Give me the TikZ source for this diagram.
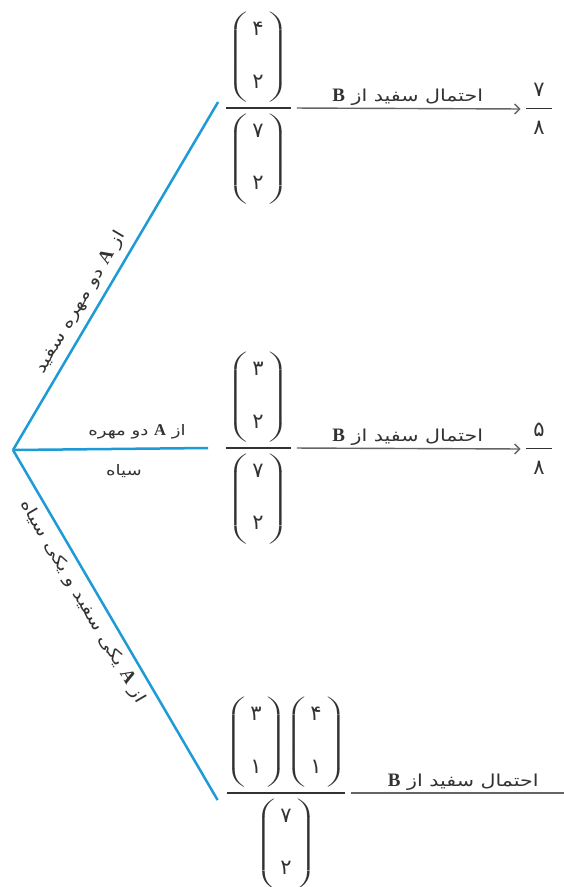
\documentclass[tikz,border=0pt]{standalone}
\usepackage{amsmath}
\usepackage{graphicx}
\usepackage{fontspec}
\TeXXeTstate=1
\newfontfamily\arabicfont[Script=Arabic,FakeStretch=1.25]{DejaVu Sans}
\newfontfamily\digitfont[Script=Arabic]{DejaVu Sans}
\newfontfamily\latinfont{Liberation Serif}
\usetikzlibrary{arrows.meta}
\definecolor{branch}{RGB}{30,155,215}
\definecolor{ink}{RGB}{50,50,50}
\definecolor{greyline}{RGB}{100,100,100}
\newcommand\pdig[1]{\hbox{\digitfont\fontsize{21}{21}\selectfont #1}}
\newcommand\lpar{\mbox{\scalebox{2.2}[1]{$\left(\vrule width0pt height47.5pt depth42.5pt\right.$}}}
\newcommand\rpar{\mbox{\scalebox{2.2}[1]{$\left.\vrule width0pt height47.5pt depth42.5pt\right)$}}}
\newcommand\pbin[2]{\lpar\kern2.5pt\begin{matrix}\pdig{#1}\\[36pt]\pdig{#2}\end{matrix}\kern2.5pt\rpar}
\newcommand\wbox[2]{\hbox to #1{\hss$\displaystyle #2$\hss}}
\newcommand\rtl[1]{\arabicfont\beginR #1\endR}
\newcommand\lat[1]{\beginL{\latinfont\bfseries\fontsize{19}{20}\selectfont #1}\endL}
\newcommand\latm[1]{\beginL{\latinfont\bfseries\fontsize{16.5}{18}\selectfont #1}\endL}
\newcommand\numstrut{\vrule width0pt height0pt depth8pt}
\newcommand\denstrut{\vrule width0pt height22pt depth0pt}
\tikzset{
  branchline/.style={draw=branch, line width=2.5pt},
  arrowline/.style={draw=greyline, line width=1.4pt},
  arrowtip/.style={-{Straight Barb[length=5pt,width=10pt,line width=1.4pt]}},
  fracnode/.style={inner sep=0pt, text=ink},
  lbl/.style={text=ink, font=\arabicfont\fontsize{16.5}{18}\selectfont, inner sep=1pt},
  smalllbl/.style={text=ink, font=\arabicfont\fontsize{14.5}{16}\selectfont, inner sep=1pt},
}
\begin{document}
\begin{tikzpicture}[x=1pt,y=-1pt]
\useasboundingbox (0,0) rectangle (563,887);
\fill[white] (0,0) rectangle (563,887);
\coordinate (root) at (13,450);
% fractions
\node[fracnode] (f1) at (258,108) {$\genfrac{}{}{1.6pt}{0}{\wbox{65pt}{\pbin{۴}{۲}}}{\wbox{65pt}{\pbin{۷}{۲}}}$};
\node[fracnode] (f2) at (258,448) {$\genfrac{}{}{1.6pt}{0}{\wbox{65pt}{\pbin{۳}{۲}}}{\wbox{65pt}{\pbin{۷}{۲}}}$};
\node[fracnode] (f3) at (286,793) {$\genfrac{}{}{1.6pt}{0}{\wbox{118pt}{\pbin{۳}{۱}\pbin{۴}{۱}}}{\wbox{118pt}{\pbin{۷}{۲}}}$};
\node[fracnode, inner sep=1pt] (r1) at (539,109) {$\genfrac{}{}{1.2pt}{0}{\wbox{26pt}{\pdig{۷}\numstrut}}{\wbox{26pt}{\denstrut\pdig{۸}}}$};
\node[fracnode, inner sep=1pt] (r2) at (539,449) {$\genfrac{}{}{1.2pt}{0}{\wbox{26pt}{\pdig{۵}\numstrut}}{\wbox{26pt}{\denstrut\pdig{۸}}}$};
\coordinate (e3) at (580,793);
% branches
\draw[branchline] (root) -- ([xshift=-6pt,yshift=6pt]f1.west)
  node[pos=0.4, sloped, above=6pt, lbl] (lab1) {\rtl{از \lat{A} دو مهره سفید}};
\draw[branchline] (root) -- ([xshift=-16pt]f2.west);
\node[smalllbl] (lab2) at (137,432) {\rtl{از \latm{A} دو مهره}};
\node[smalllbl] (lab3) at (124,471) {\rtl{سیاه}};
\draw[branchline] (root) -- ([xshift=-8pt,yshift=-7pt]f3.west)
  node[pos=0.41, sloped, below=6pt, lbl] (lab4) {\rtl{از \lat{A} یکی سفید و یکی سیاه}};
% arrows
\draw[arrowline, arrowtip, shorten <=5pt, shorten >=3pt] (f1.east) -- (r1.west)
  node[midway, above=1pt, lbl] (lab5) {\rtl{احتمال سفید از \lat{B}}};
\draw[arrowline, arrowtip, shorten <=5pt, shorten >=3pt] (f2.east) -- (r2.west)
  node[midway, above=1pt, lbl] (lab6) {\rtl{احتمال سفید از \lat{B}}};
\draw[arrowline, arrowtip, shorten <=5pt] (f3.east) -- (e3)
  node[midway, above=1pt, lbl] (lab7) {\rtl{احتمال سفید از \lat{B}}};
\end{tikzpicture}
\end{document}
